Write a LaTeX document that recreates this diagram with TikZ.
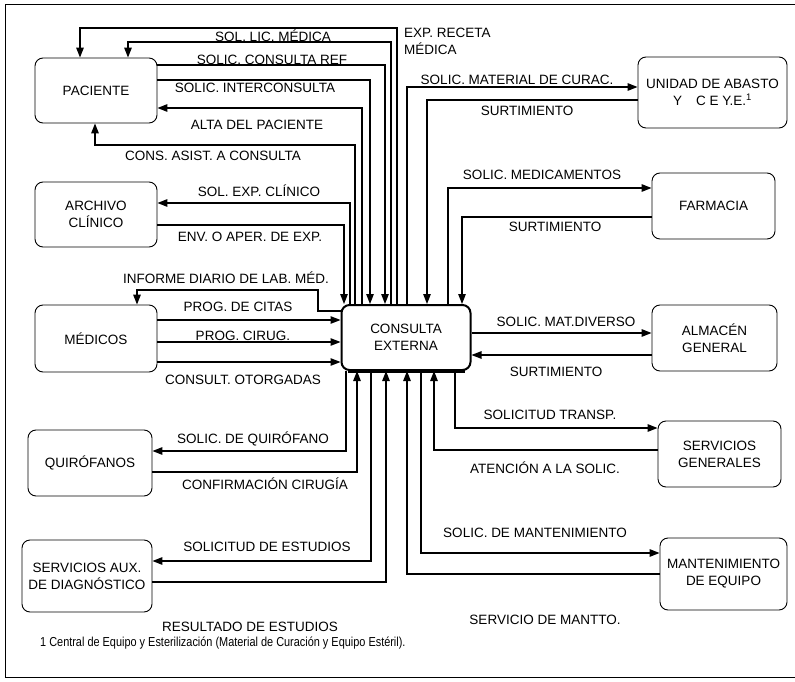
\documentclass[tikz,border=0pt]{standalone}
\usepackage{fontspec}
\setmainfont{Liberation Sans}
\newfontfamily\narrowfont{Liberation Sans}[FakeStretch=0.84]
\usetikzlibrary{arrows.meta}
\begin{document}
\begin{tikzpicture}[x=1pt,y=-1pt,
  every node/.style={font=\fontsize{13.5}{17}\selectfont},
  box/.style={draw, rounded corners=8pt, line width=0.9pt, align=center, inner sep=0pt},
  conn/.style={line width=1.3pt, -{Triangle[length=10pt,width=7.5pt]}},
  lbl/.style={inner sep=1pt}]
\useasboundingbox (0,0) rectangle (795,682);
% frame
\draw[line width=1pt] (795,5) -- (5,5) -- (5,677) -- (795,677);

% boxes
\node[box, minimum width=122pt, minimum height=65pt] (pac) at (96,90.5) {PACIENTE};
\node[box, minimum width=122pt, minimum height=65pt] (arc) at (96,214.5) {ARCHIVO\\CLÍNICO};
\node[box, minimum width=122pt, minimum height=67pt] (med) at (96,338.5) {MÉDICOS};
\node[box, minimum width=124pt, minimum height=66pt] (qui) at (90,463) {QUIRÓFANOS};
\node[box, minimum width=130pt, minimum height=72pt] (aux) at (87,576) {SERVICIOS AUX.\\DE DIAGNÓSTICO};
\node[box, line width=2pt, minimum width=129pt, minimum height=65pt] (ce) at (406,337.5) {CONSULTA\\EXTERNA};
\draw[line width=3.5pt] ([xshift=7pt]ce.south west) -- ([xshift=-7pt]ce.south east);
\node[box, minimum width=149pt, minimum height=71pt] (uni) at (712.5,92.5) {UNIDAD DE ABASTO\\Y\hspace{14pt}C E Y.E.\textsuperscript{1}};
\node[box, minimum width=123pt, minimum height=66pt] (far) at (713.5,206) {FARMACIA};
\node[box, minimum width=125pt, minimum height=66pt] (alm) at (714.5,338) {ALMACÉN\\GENERAL};
\node[box, minimum width=123pt, minimum height=66pt] (sg) at (719.5,454) {SERVICIOS\\GENERALES};
\node[box, minimum width=127pt, minimum height=72pt] (man) at (723.5,574) {MANTENIMIENTO\\DE EQUIPO};

% Paciente connectors
\draw[conn] (ce.north -| 397,0) -- (397,28) -- (80,28) -- (pac.north -| 80,0);
\draw[conn] (ce.north -| 391,0) -- (391,42) -- (128,42) -- (pac.north -| 128,0);
\draw[conn] (pac.east |- 0,65) -- (385,65) -- (ce.north -| 385,0);
\draw[conn] (pac.east |- 0,80) -- (370,80) -- (ce.north -| 370,0);
\draw[conn] (ce.north -| 362,0) -- (362,108) -- (pac.east |- 0,108);
\draw[conn] (ce.north -| 355,0) -- (355,145) -- (95,145) -- (pac.south -| 95,0);

% Archivo
\draw[conn] (ce.north -| 350,0) -- (350,203) -- (arc.east |- 0,203);
\draw[conn] (arc.east |- 0,225) -- (344,225) -- (ce.north -| 344,0);

% Medicos
\draw[conn] (ce.west |- 0,311) -- (318,311) -- (318,290) -- (137,290) -- (med.north -| 137,0);
\draw[conn] (med.east |- 0,320) -- (ce.west |- 0,320);
\draw[conn] (med.east |- 0,342) -- (ce.west |- 0,342);
\draw[conn] (med.east |- 0,362) -- (ce.west |- 0,362);

% right top
\draw[conn] (ce.north -| 407,0) -- (407,87) -- (uni.west |- 0,87);
\draw[conn] (uni.west |- 0,100) -- (427,100) -- (ce.north -| 427,0);
\draw[conn] (ce.north -| 448,0) -- (448,188) -- (far.west |- 0,188);
\draw[conn] (far.west |- 0,217) -- (462,217) -- (ce.north -| 462,0);
\draw[conn] (ce.east |- 0,333) -- (alm.west |- 0,333);
\draw[conn] (alm.west |- 0,355) -- (ce.east |- 0,355);

% bottom left
\draw[conn] (ce.south -| 346,0) -- (346,451) -- (qui.east |- 0,451);
\draw[conn] (qui.east |- 0,472) -- (357,472) -- (ce.south -| 357,0);
\draw[conn] (ce.south -| 371,0) -- (371,561) -- (aux.east |- 0,561);
\draw[conn] (aux.east |- 0,582) -- (386,582) -- (ce.south -| 386,0);

% bottom right
\draw[conn] (man.west |- 0,574) -- (407,574) -- (ce.south -| 407,0);
\draw[conn] (ce.south -| 421,0) -- (421,553) -- (man.west |- 0,553);
\draw[conn] (sg.west |- 0,450) -- (434,450) -- (ce.south -| 434,0);
\draw[conn] (ce.south -| 455,0) -- (455,428) -- (sg.west |- 0,428);

% labels
\node[lbl, anchor=north west, align=left] (l1) at (403,27) {EXP. RECETA\\MÉDICA};
\node[lbl] (l2) at (273,36) {SOL. LIC. MÉDICA};
\node[lbl] (l3) at (272,60) {SOLIC. CONSULTA REF};
\node[lbl] (l4) at (255,88) {SOLIC. INTERCONSULTA};
\node[lbl] (l5) at (257,125) {ALTA DEL PACIENTE};
\node[lbl] (l6) at (213,156) {CONS. ASIST. A CONSULTA};
\node[lbl] (l7) at (259,191) {SOL. EXP. CLÍNICO};
\node[lbl] (l8) at (250,237) {ENV. O APER. DE EXP.};
\node[lbl] (l9) at (226,278) {INFORME DIARIO DE LAB. MÉD.};
\node[lbl] (l10) at (238,307) {PROG. DE CITAS};
\node[lbl] (l11) at (243,336) {PROG. CIRUG.};
\node[lbl] (l12) at (243,380) {CONSULT. OTORGADAS};
\node[lbl] (l13) at (517,80) {SOLIC. MATERIAL DE CURAC.};
\node[lbl] (l14) at (527,111) {SURTIMIENTO};
\node[lbl] (l15) at (542,175) {SOLIC. MEDICAMENTOS};
\node[lbl] (l16) at (555,227) {SURTIMIENTO};
\node[lbl] (l17) at (566,322) {SOLIC. MAT.DIVERSO};
\node[lbl] (l18) at (556,372) {SURTIMIENTO};
\node[lbl] (l19) at (550,415) {SOLICITUD TRANSP.};
\node[lbl] (l20) at (545,468) {ATENCIÓN A LA SOLIC.};
\node[lbl] (l21) at (535,533) {SOLIC. DE MANTENIMIENTO};
\node[lbl] (l22) at (545,620) {SERVICIO DE MANTTO.};
\node[lbl] (l23) at (253,439) {SOLIC. DE QUIRÓFANO};
\node[lbl] (l24) at (265,484) {CONFIRMACIÓN CIRUGÍA};
\node[lbl] (l25) at (267,547) {SOLICITUD DE ESTUDIOS};
\node[lbl] (l26) at (250,627) {RESULTADO DE ESTUDIOS};
\node[lbl, anchor=west, font=\narrowfont\fontsize{13}{15}\selectfont] (fn) at (39,643) {1 Central de Equipo y Esterilización (Material de Curación y Equipo Estéril).};
\end{tikzpicture}
\end{document}
